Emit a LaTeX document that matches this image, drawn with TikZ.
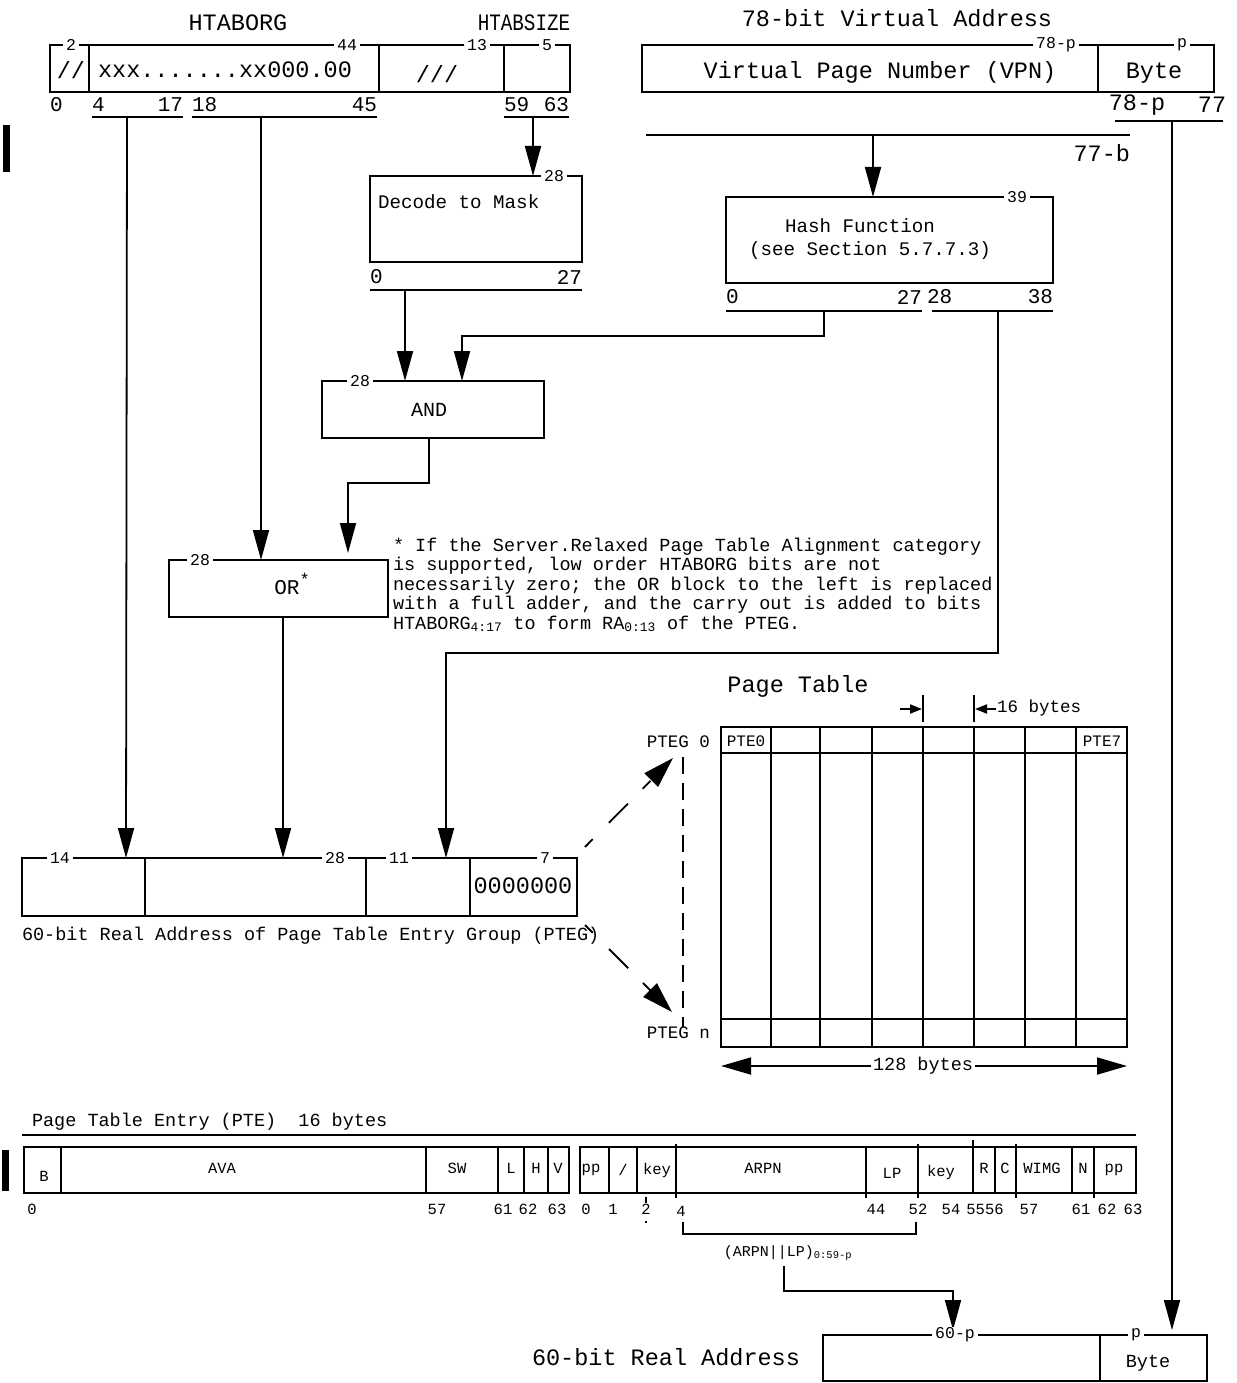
\documentclass[tikz,border=0pt]{standalone}
\usepackage{fontspec}
\usepackage{graphicx}
\setmainfont{Liberation Mono}
\usetikzlibrary{arrows.meta}
\begin{document}
\begin{tikzpicture}[x=1pt,y=-1pt,line width=1.8pt,
  every node/.style={inner sep=0pt,outer sep=0pt},
  fA/.style={font=\fontsize{23.5}{26}\selectfont},
  fN/.style={font=\fontsize{21}{24}\selectfont},
  fM/.style={font=\fontsize{19.2}{22}\selectfont},
  fB/.style={font=\fontsize{18.5}{20}\selectfont},
  fP/.style={font=\fontsize{17.5}{20}\selectfont},
  fC/.style={font=\fontsize{16.5}{18}\selectfont},
  fD/.style={font=\fontsize{15.5}{17}\selectfont},
  lab/.style={fC,fill=white,inner xsep=3pt,inner ysep=1pt},
  bx/.style={draw,anchor=north west},
  arr/.style={-{Triangle[length=30pt,width=16pt]}},
  darr/.style={-{Triangle[length=31pt,width=19pt]},dash pattern=on 11pt off 23pt on 27pt off 21pt},
  sarr/.style={-{Triangle[length=12pt,width=9pt]}},
]
\useasboundingbox (0,0) rectangle (1236,1383);

% ---------- HTABORG / HTABSIZE register ----------
\node[fA] (htaborg) at (238,23) {HTABORG};
\node[fA] (htabsize) at (524,23) {\scalebox{0.82}[1]{HTABSIZE}};
\node[bx,minimum width=520pt,minimum height=47pt] (hreg) at (50,45) {};
\draw (89,45)--(89,92) (379,45)--(379,92) (504,45)--(504,92);
\node[lab] (h2) at (71,45) {2};
\node[lab] (h44) at (347,45) {44};
\node[lab] (h13) at (477,45) {13};
\node[lab] (h5) at (547,45) {5};
\node[fA] (hsl) at (71,70) {//};
\node[fA] (hx) at (225,70) {xxx.......xx000.00};
\node[fA] (hsl3) at (437,74) {///};
\node[fN,anchor=west] (n0) at (50,105) {0};
\node[fN,anchor=west] (n4) at (92,105) {4};
\node[fN,anchor=east] (n17) at (183,105) {17};
\node[fN,anchor=west] (n18) at (192,105) {18};
\node[fN,anchor=east] (n45) at (377,105) {45};
\node[fN,anchor=west] (n59) at (504,105) {59};
\node[fN,anchor=east] (n63) at (569,105) {63};
\draw (92,117)--(183,117) (192,117)--(377,117) (504,117)--(569,117);
\coordinate (u1) at (127,117);
\coordinate (u2) at (261,117);
\coordinate (u3) at (533,117);
\fill (3,125) rectangle (10,172);

% ---------- Virtual address ----------
\node[fA] (vat) at (897,18) {78-bit Virtual Address};
\node[bx,minimum width=572pt,minimum height=47pt] (va) at (642,45) {};
\draw (1098,45)--(1098,92);
\node[lab] (v78) at (1056,45) {78-p};
\node[lab] (vp1) at (1182,45) {p};
\node[fA] (vpn) at (880,72) {Virtual Page Number (VPN)};
\node[fA] (vbyte) at (1154,73) {Byte};
\node[fA] (v78b) at (1137,105) {78-p};
\node[fA] (v77) at (1212,105) {77};
\draw (1115,121)--(1223,121);
\draw (646,135)--(1130,135);
\node[fA,anchor=east] (v77b) at (1130,153) {77-b};
\coordinate (vb) at (1172,121);
\coordinate (vp) at (873,135);

% ---------- Decode to Mask ----------
\node[bx,minimum width=212pt,minimum height=86pt] (dec) at (370,176) {};
\node[lab] (d28) at (554,176) {28};
\node[fM,anchor=west] (dect) at (378,202) {Decode to Mask};
\node[fN,anchor=west] (d0) at (370,277) {0};
\node[fN,anchor=east] (d27) at (582,277) {27};
\draw (370,290)--(582,290);
\coordinate (dd) at (405,290);

% ---------- Hash function ----------
\node[bx,minimum width=327pt,minimum height=86pt] (hash) at (726,197) {};
\node[lab] (h39) at (1017,197) {39};
\node[fM] (hasht) at (860,226) {Hash Function};
\node[fM] (hashs) at (870,251) {(see Section 5.7.7.3)};
\node[fN,anchor=west] (hn0) at (726,297) {0};
\node[fN,anchor=east] (hn27) at (922,297) {27};
\node[fN,anchor=west] (hn28) at (927,297) {28};
\node[fN,anchor=east] (hn38) at (1053,297) {38};
\draw (726,311)--(922,311) (932,311)--(1053,311);
\coordinate (ha) at (824,311);
\coordinate (hb) at (998,311);

% ---------- AND ----------
\node[bx,minimum width=222pt,minimum height=57pt] (and) at (322,381) {};
\node[lab] (a28) at (360,381) {28};
\node[font=\fontsize{20}{22}\selectfont] (andt) at (429,410) {AND};

% ---------- OR ----------
\node[bx,minimum width=219pt,minimum height=57pt] (or) at (169,560) {};
\node[lab] (o28) at (200,560) {28};
\node[font=\fontsize{21}{24}\selectfont] (ort) at (292,584) {OR\raisebox{9pt}{\fontsize{17}{17}\selectfont*}};

% ---------- footnote ----------
\node[fB,anchor=base west] (fn1) at (393,551) {* If the Server.Relaxed Page Table Alignment category};
\node[fB,anchor=base west] (fn2) at (393,570.5) {is supported, low order HTABORG bits are not};
\node[fB,anchor=base west] (fn3) at (393,590) {necessarily zero; the OR block to the left is replaced};
\node[fB,anchor=base west] (fn4) at (393,609.5) {with a full adder, and the carry out is added to bits};
\node[fB,anchor=base west] (fn5) at (393,629) {HTABORG\textsubscript{4:17} to form RA\textsubscript{0:13} of the PTEG.};

% ---------- Real address of PTEG ----------
\node[bx,minimum width=555pt,minimum height=58pt] (ra) at (22,858) {};
\draw (145,858)--(145,916) (366,858)--(366,916) (470,858)--(470,916);
\node[lab] (r14) at (60,858) {14};
\node[lab] (r28) at (335,858) {28};
\node[lab] (r11) at (399,858) {11};
\node[lab] (r7) at (545,858) {7};
\node[fA] (rz) at (523,886) {0000000};
\node[fB,anchor=west] (rcap) at (22,936) {60-bit Real Address of Page Table Entry Group (PTEG)};

% ---------- connectors (upper part) ----------
\coordinate (ra1) at (126,858);
\coordinate (ra2) at (283,858);
\coordinate (ra3) at (446,858);
\coordinate (or1) at (261,560);
\coordinate (or2) at (348,553);
\coordinate (orb) at (283,617);
\coordinate (dect1) at (533,176);
\coordinate (hasht1) at (873,197);
\coordinate (and1) at (405,381);
\coordinate (and2) at (462,381);
\coordinate (andb) at (429,438);

\draw[arr] (u1) -- (ra1);
\draw[arr] (u2) -- (or1);
\draw[arr] (u3) -- (dect1);
\draw[arr] (vp) -- (hasht1);
\draw[arr] (dd) -- (and1);
\draw[arr] (ha) |- (462,336) -- (and2);
\draw[arr] (hb) |- (446,653) -- (ra3);
\draw[arr] (andb) |- (348,483) -- (or2);
\draw[arr] (orb) -- (ra2);

% ---------- Page table ----------
\node[fA] (ptt) at (798,686) {Page Table};
\draw (923,695)--(923,722) (974,695)--(974,722);
\coordinate (s1a) at (900,709);
\coordinate (s1b) at (922,709);
\coordinate (s2a) at (996,709);
\coordinate (s2b) at (975,709);
\draw[sarr] (s1a) -- (s1b);
\draw[sarr] (s2a) -- (s2b);
\node[fP,anchor=west] (b16) at (997,708) {16 bytes};
\node[bx,minimum width=406pt,minimum height=320pt] (pt) at (721,727) {};
\draw (721,753)--(1127,753) (721,1019)--(1128,1019);
\foreach \cx in {771,820,872,923,974,1025,1076} \draw (\cx,727)--(\cx,1047);
\node[font=\fontsize{16}{18}\selectfont] (pte0) at (746,741) {PTE0};
\node[font=\fontsize{16}{18}\selectfont] (pte7) at (1102,741) {PTE7};
\node[fP,anchor=east] (pteg0) at (710,742) {PTEG 0};
\node[fP,anchor=east] (ptegn) at (710,1033) {PTEG n};
\coordinate (dv1) at (683,757);
\coordinate (dv2) at (683,1027);
\draw[dash pattern=on 17pt off 9pt] (dv1) -- (dv2);
\coordinate (da1) at (585,847);
\coordinate (da2) at (673,758);
\coordinate (db1) at (585,925);
\coordinate (db2) at (672,1012);
\draw[darr] (da1) -- (da2);
\draw[darr] (db1) -- (db2);
\coordinate (w1) at (721,1066);
\coordinate (w2) at (1127,1066);
\draw[{Triangle[length=30pt,width=17pt]}-{Triangle[length=30pt,width=17pt]}] (w1) -- (w2);
\node[fB,fill=white,inner xsep=2pt,inner ysep=2pt] (b128) at (923,1066) {128 bytes};

% ---------- Page table entry ----------
\node[fB,anchor=west] (pteh) at (32,1122) {Page Table Entry (PTE)\ \ 16 bytes};
\draw (22,1135)--(1136,1135);
\fill (2,1150) rectangle (9,1191);
% doubleword 0
\node[bx,minimum width=545pt,minimum height=46pt] (pa) at (24,1147) {};
\draw (61,1147)--(61,1193) (426,1147)--(426,1193) (498,1147)--(498,1193) (524,1147)--(524,1193) (548,1147)--(548,1193);
\node[fD] (fb) at (44,1176) {B};
\node[fD] (fava) at (222,1168) {AVA};
\node[fD] (fsw) at (457,1168) {SW};
\node[fD] (fl) at (511,1168) {L};
\node[fD] (fh) at (536,1168) {H};
\node[fD] (fv) at (558,1168) {V};
\node[fD] (pn0) at (32,1209) {0};
\node[fD] (pn57) at (437,1209) {57};
\node[fD] (pn61) at (503,1209) {61};
\node[fD] (pn62) at (528,1209) {62};
\node[fD] (pn63) at (557,1209) {63};
% doubleword 1
\node[bx,minimum width=556pt,minimum height=46pt] (pb) at (580,1147) {};
\draw (609,1147)--(609,1193) (637,1147)--(637,1193) (676,1144)--(676,1198) (866,1147)--(866,1198)
      (918,1144)--(918,1198) (973,1140)--(973,1193) (995,1147)--(995,1193) (1016,1144)--(1016,1198)
      (1072,1147)--(1072,1193) (1094,1147)--(1094,1198);
\draw[line width=1.2pt] (646,1197)--(646,1203) (646,1221)--(646,1223);
\node[fD] (fpp) at (591,1170) {pp};
\node[fD] (fsl) at (623,1170) {/};
\node[fD] (fkey) at (657,1170) {key};
\node[fD] (farpn) at (763,1168) {ARPN};
\node[fD] (flp) at (892,1173) {LP};
\node[fD] (fkey2) at (941,1172) {key};
\node[fD] (fr) at (984,1168) {R};
\node[fD] (fc) at (1005,1168) {C};
\node[fD] (fwimg) at (1042,1168) {WIMG};
\node[fD] (fn) at (1083,1168) {N};
\node[fD] (fpp2) at (1114,1170) {pp};
\node[fD] (qn0) at (586,1209) {0};
\node[fD] (qn1) at (613,1209) {1};
\node[fD] (qn2) at (646,1209) {2};
\node[fD] (qn4) at (681,1211) {4};
\node[fD] (qn44) at (876,1209) {44};
\node[fD] (qn52) at (918,1209) {52};
\node[fD] (qn54) at (951,1209) {54};
\node[fD] (qn5556) at (985,1209) {5556};
\node[fD] (qn57) at (1029,1209) {57};
\node[fD] (qn61) at (1081,1209) {61};
\node[fD] (qn62) at (1107,1209) {62};
\node[fD] (qn63) at (1133,1209) {63};
\draw (683,1222)--(683,1234)--(916,1234)--(916,1222);
\node[font=\fontsize{15}{17}\selectfont] (arpnlp) at (788,1253) {(ARPN||LP)\textsubscript{0:59-p}};
\coordinate (t1) at (784,1266);
\coordinate (t2) at (953,1330);
\draw[arr] (t1) |- (953,1291) -- (t2);

% ---------- 60-bit real address ----------
\node[fA] (rat) at (666,1357) {60-bit Real Address};
\node[bx,minimum width=384pt,minimum height=46pt] (rra) at (823,1335) {};
\draw (1100,1335)--(1100,1381);
\node[lab] (r60p) at (955,1335) {60-p};
\node[lab] (rp) at (1136,1335) {p};
\node[fB] (rbyte) at (1148,1363) {Byte};
\coordinate (rb) at (1172,1330);
\draw[arr] (vb) -- (rb);
\end{tikzpicture}
\end{document}
